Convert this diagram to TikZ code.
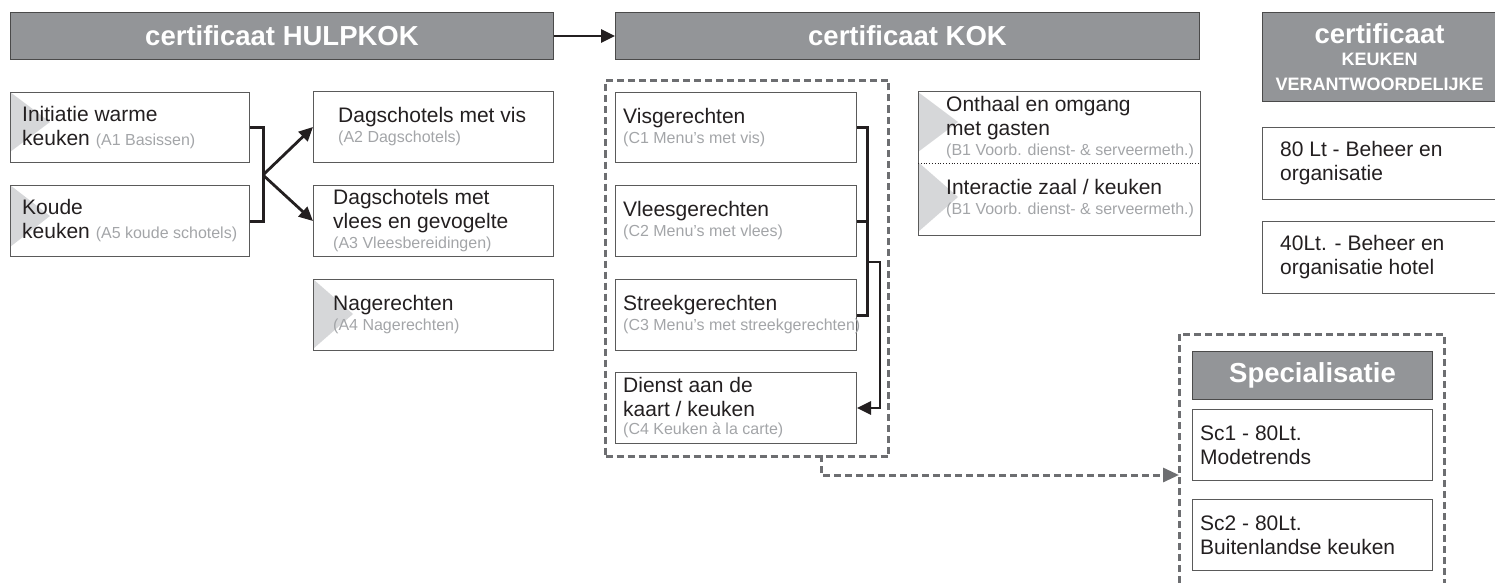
\documentclass[tikz,border=0pt]{standalone}
\usepackage{fontspec}
\setmainfont{Liberation Sans}
\usetikzlibrary{arrows.meta,backgrounds}

\definecolor{hdrfill}{HTML}{939598}
\definecolor{hdrline}{HTML}{4A4A4A}
\definecolor{boxline}{HTML}{5A5A5A}
\definecolor{ink}{HTML}{231F20}
\definecolor{subgrey}{HTML}{A3A5A8}
\definecolor{markgrey}{HTML}{D6D7D9}
\definecolor{dashgrey}{HTML}{6D6E71}

\newcommand{\subnote}[1]{{\color{subgrey}\fontsize{16}{19}\selectfont #1}}
\newcommand{\kfont}{\fontsize{18}{20}\selectfont}
% grey wedge on the left side of a box
\newcommand{\wedgemark}[2]{\fill[markgrey] (#1.north west) -- ++(40,-#2/2) -- ++(-40,-#2/2) -- cycle;}

\tikzset{
  hdr/.style={draw=hdrline, line width=1pt, fill=hdrfill, text=white,
    font=\bfseries\fontsize{27.5}{30}\selectfont, anchor=north west, inner sep=0pt},
  box/.style={draw=boxline, line width=1pt, anchor=north west,
    minimum width=240pt, minimum height=71pt, inner sep=0pt},
  txt/.style={anchor=west, align=left, inner sep=0pt, text=ink,
    font=\fontsize{21}{24}\selectfont},
  bracket/.style={line width=3pt, draw=ink},
  flow/.style={line width=2.8pt, draw=ink, -{Triangle[length=14pt,width=13pt]}},
  frame/.style={draw=dashgrey, line width=3pt, dash pattern=on 7pt off 4pt},
  dashflow/.style={frame, -{Triangle[length=16pt,width=14pt,fill=dashgrey]}},
}

\begin{document}
\begin{tikzpicture}[x=1pt,y=1pt]
\useasboundingbox (0,0) rectangle (1495,-583);

% headers
\node[hdr, minimum width=543, minimum height=47] (hulp) at (10,-12) {certificaat HULPKOK};
\node[hdr, minimum width=584, minimum height=47] (kok) at (615,-12) {certificaat KOK};
\node[hdr, minimum width=234, minimum height=89, align=center] (verant) at (1262,-12)
  {certificaat\\[-8pt]{\kfont KEUKEN}\\[-5pt]{\kfont VERANTWOORDELIJKE}};
\draw[flow] (hulp) -- (kok);

% hulpkok
\node[box, minimum width=239, minimum height=70] (a1) at (10,-92) {};
\node[txt] (a1t) at ([xshift=12pt]a1.west) {Initiatie warme\\keuken \subnote{(A1 Basissen)}};
\node[box, minimum width=239] (a5) at (10,-185) {};
\node[txt] (a5t) at ([xshift=12pt]a5.west) {Koude\\keuken \subnote{(A5 koude schotels)}};

\node[box] (a2) at (313,-91) {};
\node[txt] (a2t) at ([xshift=25pt]a2.west) {Dagschotels met vis\\[-4pt]\subnote{(A2 Dagschotels)}};
\node[box] (a3) at (313,-185) {};
\node[txt] (a3t) at ([xshift=20pt]a3.west) {Dagschotels met\\vlees en gevogelte\\[-4pt]\subnote{(A3 Vleesbereidingen)}};
\node[box] (a4) at (313,-279) {};
\node[txt] (a4t) at ([xshift=20pt]a4.west) {Nagerechten\\[-4pt]\subnote{(A4 Nagerechten)}};

\coordinate (hub) at (263,-175);
\draw[bracket] (a1.east) -| (hub) |- (a5.east);
\draw[flow] (hub) -- (a2.west);
\draw[flow] (hub) -- (a3.west);

% kok
\node[frame, anchor=north west, inner sep=0pt, minimum width=283, minimum height=376] (kokframe) at (604,-79) {};
\node[box, minimum width=241, minimum height=70] (c1) at (615,-92) {};
\node[txt] (c1t) at ([xshift=8pt]c1.west) {Visgerechten\\[-4pt]\subnote{(C1 Menu’s met vis)}};
\node[box, minimum width=241] (c2) at (615,-185) {};
\node[txt] (c2t) at ([xshift=8pt]c2.west) {Vleesgerechten\\[-4pt]\subnote{(C2 Menu’s met vlees)}};
\node[box, minimum width=241] (c3) at (615,-279) {};
\node[txt] (c3t) at ([xshift=8pt]c3.west) {Streekgerechten\\[-4pt]\subnote{(C3 Menu’s met streekgerechten)}};
\node[box, minimum width=241] (c4) at (615,-372) {};
\node[txt] (c4t) at ([xshift=8pt]c4.west) {Dienst aan de\\kaart / keuken\\[-6pt]\subnote{(C4 Keuken à la carte)}};

\coordinate (cj) at (867,-262);
\draw[bracket] (c1.east) -| (cj) |- (c3.east);
\draw[bracket] (c2.east) -- (c2.east -| cj);
\draw[flow] (cj) -- ++(13,0) |- (c4.east);

\node[box, draw=none, minimum width=281, minimum height=70] (b1) at (918,-92) {};
\node[box, draw=none, minimum width=281, minimum height=72] (b2) at (918,-162) {};
\draw[boxline, line width=1pt] (b1.north west) rectangle (b2.south east);
\draw[ink, dotted, line width=0.8pt] (b1.south west) -- (b1.south east);
\node[txt] (b1t) at ([xshift=28pt]b1.west) {Onthaal en omgang\\met gasten\\[-4pt]\subnote{(B1 Voorb. dienst- \& serveermeth.)}};
\node[txt] (b2t) at ([xshift=28pt]b2.west) {Interactie zaal / keuken\\[-4pt]\subnote{(B1 Voorb. dienst- \& serveermeth.)}};

% keuken verantwoordelijke
\node[box, minimum width=234, minimum height=72] (lt80) at (1262,-127) {};
\node[txt] (lt80t) at ([xshift=18pt]lt80.west) {80 Lt - Beheer en\\organisatie};
\node[box, minimum width=234, minimum height=72] (lt40) at (1262,-221) {};
\node[txt] (lt40t) at ([xshift=18pt]lt40.west) {40Lt. - Beheer en\\organisatie hotel};

% specialisatie
\draw[frame] (1179,-583) |- (1444,-334) -- (1444,-583);
\node[hdr, minimum width=240, minimum height=48] (spec) at (1192,-351) {Specialisatie};
\node[box] (sc1) at (1192,-409) {};
\node[txt] (sc1t) at ([xshift=8pt]sc1.west) {Sc1 - 80Lt.\\Modetrends};
\node[box] (sc2) at (1192,-499) {};
\node[txt] (sc2t) at ([xshift=8pt]sc2.west) {Sc2 - 80Lt.\\Buitenlandse keuken};

\coordinate (drop) at (821,-455);
\coordinate (specin) at (1179,-475);
\draw[dashflow] (drop) |- (specin);

\begin{pgfonlayer}{background}
  \wedgemark{a1}{60}
  \wedgemark{a5}{62}
  \wedgemark{a4}{70}
  \wedgemark{b1}{60}
  \wedgemark{b2}{70}
\end{pgfonlayer}
\end{tikzpicture}
\end{document}
